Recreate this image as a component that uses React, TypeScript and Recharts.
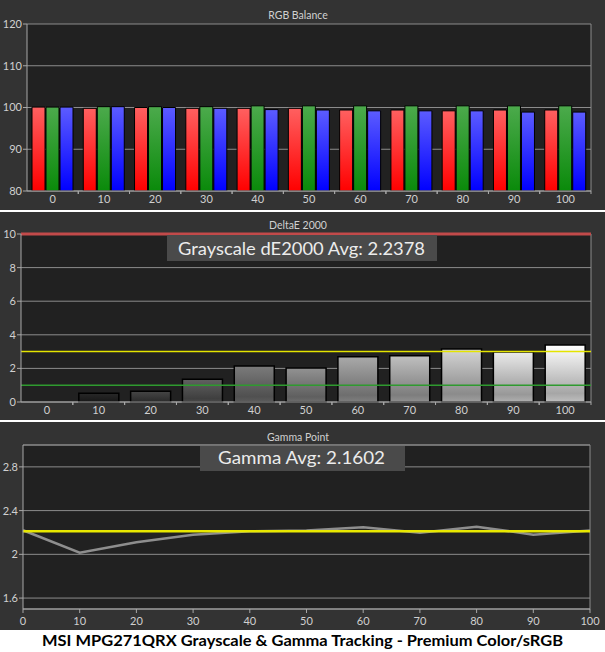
import { Bar, BarChart, CartesianGrid, Cell, Line, LineChart, ReferenceLine, XAxis, YAxis } from 'recharts';

const levels = [0, 10, 20, 30, 40, 50, 60, 70, 80, 90, 100];

const redBalance = [100.1, 99.8, 100.0, 99.8, 99.8, 99.8, 99.4, 99.4, 99.2, 99.4, 99.4];
const greenBalance = [100.1, 100.2, 100.2, 100.2, 100.4, 100.4, 100.4, 100.4, 100.4, 100.4, 100.4];
const blueBalance = [100.1, 100.2, 100.0, 99.8, 99.5, 99.4, 99.2, 99.2, 99.2, 98.9, 98.9];

const deltaE = [0, 0.52, 0.64, 1.36, 2.14, 2.02, 2.69, 2.75, 3.15, 2.97, 3.39];

const gammaPoints = [2.22, 2.015, 2.11, 2.18, 2.21, 2.217, 2.247, 2.198, 2.253, 2.18, 2.217];
const gammaTarget = 2.21;

const rgbTicks = [80, 90, 100, 110, 120];
const deTicks = [0, 2, 4, 6, 8, 10];
const gammaTicks = [1.6, 2, 2.4, 2.8];

const rgbData = levels.map((level, i) => ({
  level,
  r: redBalance[i],
  g: greenBalance[i],
  b: blueBalance[i],
}));

const deData = levels.map((level, i) => ({ level, de: deltaE[i] }));

const gammaData = levels.map((level, i) => ({ level, gamma: gammaPoints[i], target: gammaTarget }));

const PANEL_BG = '#333333';
const PLOT_BG = '#212121';
const GRID = '#8c8c8c';
const AXIS = '#a8a8a8';
const LABEL = '#d0d0d0';

function grayFor(level: number, k: number) {
  const v = Math.round(255 * Math.pow(level / 100, 0.8) * k);
  return `rgb(${v},${v},${v})`;
}

// label under the band centre, little marks on the band edges
function CategoryTick(props: any) {
  const { x, y, payload, index } = props;
  const half = payload?.offset ?? 25.7;
  return (
    <g>
      {index === 0 ? null : <line x1={x - half} x2={x - half} y1={y} y2={y + 3} stroke={AXIS} />}
      <line x1={x + half} x2={x + half} y1={y} y2={y + 3} stroke={AXIS} />
      <text x={x} y={y + 12} textAnchor="middle" fill={LABEL} fontSize={11}>
        {payload.value}
      </text>
    </g>
  );
}

const rightEdge = ({ offset }: any) => [offset.left + offset.width];

export default function App() {
  return (
    <div
      style={{
        position: 'absolute',
        left: 0,
        top: 0,
        width: 605,
        height: 652,
        background: '#ffffff',
        fontFamily: 'Lato, sans-serif',
        overflow: 'hidden',
      }}
    >
      <svg width={0} height={0} style={{ position: 'absolute' }}>
        <defs>
          <linearGradient id="redFill" x1="0" y1="0" x2="0" y2="1">
            <stop offset="0%" stopColor="#ff6060" />
            <stop offset="100%" stopColor="#ff0000" />
          </linearGradient>
          <linearGradient id="greenFill" x1="0" y1="0" x2="0" y2="1">
            <stop offset="0%" stopColor="#4caa4c" />
            <stop offset="100%" stopColor="#0a8a0a" />
          </linearGradient>
          <linearGradient id="blueFill" x1="0" y1="0" x2="0" y2="1">
            <stop offset="0%" stopColor="#5c5cff" />
            <stop offset="100%" stopColor="#0000ff" />
          </linearGradient>
          {levels.map((level) => (
            <linearGradient key={level} id={`gray${level}`} x1="0" y1="0" x2="0" y2="1">
              <stop offset="0%" stopColor={grayFor(level, 1)} />
              <stop offset="85%" stopColor={grayFor(level, 0.65)} />
              <stop offset="100%" stopColor={grayFor(level, 0.75)} />
            </linearGradient>
          ))}
        </defs>
      </svg>

      <div style={{ position: 'absolute', left: 0, top: 0, width: 605, height: 210, background: PANEL_BG }}>
        <BarChart
          width={605}
          height={210}
          data={rgbData}
          margin={{ top: 24, right: 14, bottom: 0, left: 0 }}
          barSize={13}
          barGap={1}
        >
          <CartesianGrid
            fill={PLOT_BG}
            fillOpacity={1}
            stroke={GRID}
            verticalCoordinatesGenerator={rightEdge}
          />
          <XAxis
            dataKey="level"
            height={19}
            stroke={AXIS}
            tickLine={false}
            tickSize={0}
            tickMargin={0}
            tick={<CategoryTick />}
            interval={0}
          />
          <YAxis
            width={27}
            domain={[80, 120]}
            ticks={rgbTicks}
            stroke={AXIS}
            tickSize={4}
            tickMargin={1}
            tick={{ fill: LABEL, fontSize: 11 }}
            allowDataOverflow
          />
          <Bar dataKey="r" fill="url(#redFill)" stroke="#000" strokeWidth={1} isAnimationActive={false} />
          <Bar dataKey="g" fill="url(#greenFill)" stroke="#000" strokeWidth={1} isAnimationActive={false} />
          <Bar dataKey="b" fill="url(#blueFill)" stroke="#000" strokeWidth={1} isAnimationActive={false} />
        </BarChart>
      </div>

      <div style={{ position: 'absolute', left: 0, top: 212, width: 605, height: 208, background: PANEL_BG }}>
        <BarChart
          width={605}
          height={208}
          data={deData}
          margin={{ top: 22, right: 14, bottom: 0, left: 0 }}
          barSize={40}
        >
          <CartesianGrid
            fill={PLOT_BG}
            fillOpacity={1}
            stroke={GRID}
            verticalCoordinatesGenerator={rightEdge}
          />
          <XAxis
            dataKey="level"
            height={18}
            stroke={AXIS}
            tickLine={false}
            tickSize={0}
            tickMargin={0}
            tick={<CategoryTick />}
            interval={0}
          />
          <YAxis
            width={21}
            domain={[0, 10]}
            ticks={deTicks}
            stroke={AXIS}
            tickSize={4}
            tickMargin={1}
            tick={{ fill: LABEL, fontSize: 11 }}
          />
          <Bar dataKey="de" stroke="#000" strokeWidth={1.5} isAnimationActive={false}>
            {deData.map((d) => (
              <Cell key={d.level} fill={`url(#gray${d.level})`} />
            ))}
          </Bar>
          <ReferenceLine y={10} stroke="#c24a4a" strokeWidth={3} />
          <ReferenceLine y={3} stroke="#e4e400" strokeWidth={1.5} />
          <ReferenceLine y={1} stroke="#2f9a2f" strokeWidth={1.5} />
        </BarChart>
      </div>

      <div style={{ position: 'absolute', left: 0, top: 422, width: 605, height: 208, background: PANEL_BG }}>
        <LineChart
          width={605}
          height={208}
          data={gammaData}
          margin={{ top: 23, right: 15, bottom: 0, left: 0 }}
        >
          <CartesianGrid
            fill={PLOT_BG}
            fillOpacity={1}
            stroke={GRID}
            verticalCoordinatesGenerator={rightEdge}
          />
          <XAxis
            dataKey="level"
            type="number"
            domain={[0, 100]}
            ticks={levels}
            height={21}
            stroke={AXIS}
            tickSize={4}
            tickMargin={4}
            tick={{ fill: LABEL, fontSize: 11 }}
          />
          <YAxis
            width={23}
            domain={[1.5, 3.0]}
            ticks={gammaTicks}
            stroke={AXIS}
            tickSize={4}
            tickMargin={1}
            tick={{ fill: LABEL, fontSize: 11 }}
          />
          <ReferenceLine y={3} stroke={GRID} />
          <Line
            dataKey="gamma"
            stroke="#8e8e8e"
            strokeWidth={2.5}
            dot={false}
            type="linear"
            isAnimationActive={false}
          />
          <Line
            dataKey="target"
            stroke="#e8e800"
            strokeWidth={2.5}
            dot={false}
            type="linear"
            isAnimationActive={false}
          />
        </LineChart>
      </div>

      <svg
        width={605}
        height={652}
        style={{ position: 'absolute', left: 0, top: 0, pointerEvents: 'none' }}
      >
        <text x={298} y={19} textAnchor="middle" fill={LABEL} fontSize={10.5}>
          RGB Balance
        </text>
        <text x={298} y={229} textAnchor="middle" fill={LABEL} fontSize={10.5}>
          DeltaE 2000
        </text>
        <text x={298} y={441} textAnchor="middle" fill={LABEL} fontSize={10.5}>
          Gamma Point
        </text>

        <rect x={167} y={235} width={270} height={26} fill="#4a4a4a" />
        <text x={178} y={255} fill="#ececec" fontSize={18} textLength={247} lengthAdjust="spacingAndGlyphs">
          Grayscale dE2000 Avg: 2.2378
        </text>

        <rect x={200} y={446} width={205} height={25} fill="#4a4a4a" />
        <text x={218} y={464} fill="#ececec" fontSize={18} textLength={167} lengthAdjust="spacingAndGlyphs">
          Gamma Avg: 2.1602
        </text>

        <text
          x={42}
          y={646}
          fill="#000"
          fontSize={16}
          fontWeight="bold"
          textLength={521}
          lengthAdjust="spacingAndGlyphs"
        >
          MSI MPG271QRX Grayscale &amp; Gamma Tracking - Premium Color/sRGB
        </text>
      </svg>
    </div>
  );
}
